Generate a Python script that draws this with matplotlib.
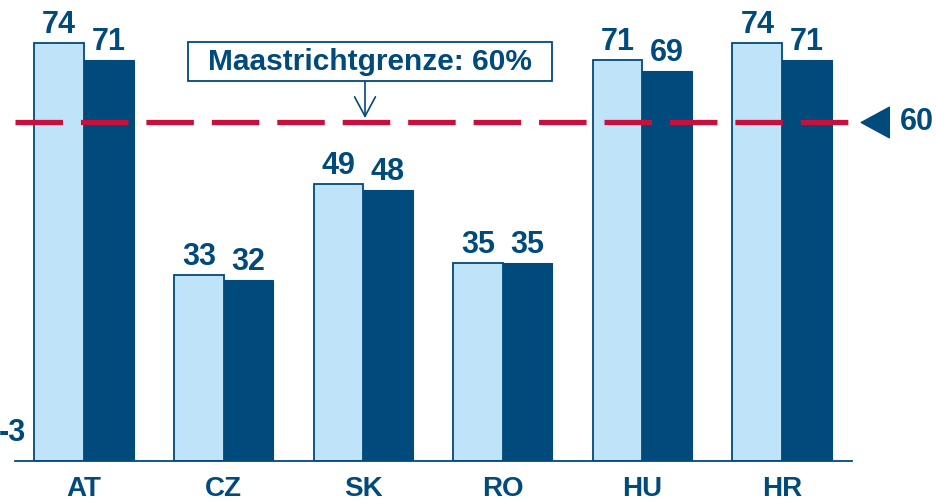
import numpy as np
import matplotlib
matplotlib.use("Agg")
import matplotlib.pyplot as plt
from matplotlib.path import Path
from matplotlib.patches import Rectangle

# data
countries = ["AT", "CZ", "SK", "RO", "HU", "HR"]
light_vals = [74, 33, 49, 35, 71, 74]
dark_vals = [71, 32, 48, 35, 69, 71]
limit = 60
limit_label = "Maastrichtgrenze: 60%"

dark = "#004A7C"
light = "#BFE4F9"
red = "#C8103E"

plt.rcParams["font.family"] = ["Liberation Sans", "DejaVu Sans"]
plt.rcParams["font.weight"] = "bold"

W, H = 937, 500
fig = plt.figure(figsize=(W / 100, H / 100), dpi=100)
ax = fig.add_axes([15 / W, 39 / H, 837 / W, 461 / H])

x = np.arange(len(countries))
w = 0.355
ax.bar(x - w / 2, light_vals, w, color=light, edgecolor=dark, linewidth=1.3, zorder=2)
ax.bar(x + w / 2, dark_vals, w, color=dark, edgecolor=dark, linewidth=0.8, zorder=2)

for xi, lv, dv in zip(x, light_vals, dark_vals):
    ax.annotate(str(lv), (xi - w / 2, lv), xytext=(0, 2), textcoords="offset points",
                ha="center", va="bottom", fontsize=22, color=dark, fontweight="bold")
    ax.annotate(str(dv), (xi + w / 2, dv), xytext=(0, 2), textcoords="offset points",
                ha="center", va="bottom", fontsize=22, color=dark, fontweight="bold")

# category labels under the baseline
for xi, c in zip(x, countries):
    ax.text(xi, -0.06, c, transform=ax.get_xaxis_transform(), ha="center", va="center",
            fontsize=20, color=dark, fontweight="bold", clip_on=False)

# Maastricht limit
ln = ax.axhline(limit, color=red, linewidth=3.8, zorder=3)
ln.set_dashes((9.0, 3.4))
ln.set_dash_capstyle("butt")

# label box with arrow down to the line
fig.patches.append(Rectangle((188 / W, 1 - 81 / H), 364 / W, 39 / H, transform=fig.transFigure,
                             fc="white", ec=dark, lw=1.3, zorder=4))
fig.text(370 / W, 1 - 62 / H, limit_label, ha="center", va="center", fontsize=21.5,
         color=dark, fontweight="bold", zorder=5)
ax.annotate("", xy=(2.013, limit + 0.7), xytext=(365 / W, 1 - 81 / H),
            textcoords="figure fraction",
            arrowprops=dict(arrowstyle="->,head_length=1.4,head_width=0.75",
                            color=dark, lw=1.2, shrinkA=0, shrinkB=0))

tri = Path([(0.84, 1), (-1, 0), (0.84, -1), (0.84, 1)],
           [Path.MOVETO, Path.LINETO, Path.LINETO, Path.CLOSEPOLY])
ax.plot([5.673], [limit], marker=tri, markersize=22, color=dark, clip_on=False, linestyle="none")
ax.text(5.845, limit, str(limit), ha="left", va="center", fontsize=22, color=dark,
        fontweight="bold", clip_on=False)

ax.text(-0.415, 4.96, "-3", ha="right", va="center", fontsize=22, color=dark,
        fontweight="bold", clip_on=False)

ax.set_xlim(-0.494, 5.501)
ax.set_ylim(0, 461 / 5.65)
for s in ["top", "left", "right"]:
    ax.spines[s].set_visible(False)
ax.spines["bottom"].set_color(dark)
ax.spines["bottom"].set_linewidth(1.3)
ax.set_xticks([])
ax.set_yticks([])

fig.savefig("out.png", dpi=100)
